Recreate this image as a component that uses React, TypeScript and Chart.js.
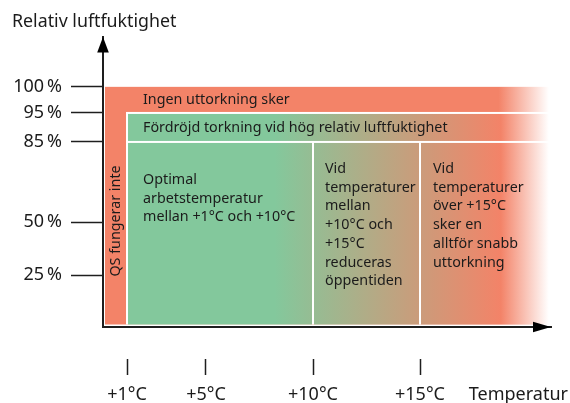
import React, { useEffect, useRef } from 'react';
import { Chart, registerables, LinearScale } from 'chart.js';

// ---------- data ----------
const yTitle = 'Relativ luftfuktighet';
const xTitle = 'Temperatur';
const yTickValues = [25, 50, 85, 95, 100];
const yTickLabels = ['25\u202F%', '50\u202F%', '85\u202F%', '95\u202F%', '100\u202F%'];
const xTickValues = [1, 5, 10, 15];
const xTickLabels = ['+1°C', '+5°C', '+10°C', '+15°C'];

const xMin = 0;
const xMax = 21;
const yMin = 0;
const yMax = 120;

const humidityTop = 100; // "Ingen uttorkning sker" above 95 %
const humidityHigh = 95; // "Fördröjd torkning" between 85 and 95 %
const humidityMid = 85;
const qsLimit = 1; // QS does not work below +1°C

const topBandLabel = 'Ingen uttorkning sker';
const midBandLabel = 'Fördröjd torkning vid hög relativ luftfuktighet';
const qsLabel = 'QS fungerar inte';

const zoneStarts = [1, 10, 15];
const zoneEnds = [10, 15, 21];
const zoneTexts = [
  ['Optimal', 'arbetstemperatur', 'mellan +1°C och +10°C'],
  ['Vid', 'temperaturer', 'mellan', '+10°C och', '+15°C', 'reduceras', 'öppentiden'],
  ['Vid', 'temperaturer', 'över +15°C', 'sker en', 'alltför snabb', 'uttorkning'],
];

// ---------- style / layout ----------
const FONT = "'Noto Sans', sans-serif";
const TEXT = '#1b1b1b';
const AXIS = '#1e1e1e';
const GREEN = 'rgb(131,200,156)';
const SALMON = 'rgb(243,131,104)';
const WHITE = 'rgb(255,255,255)';
const TITLE_FONT = 17.8;
const AXIS_FONT = 18;
const ZONE_FONT = 14.3;
const LINE_H = 18.7;
const zoneTextPad = [16, 12, 13];
const zoneTextTop = [38, 27, 27];
const bandTextPad = 16;
// colour transitions along the temperature axis
const mainGradient: [number, string][] = [[8.2, GREEN], [18.7, SALMON], [20.9, WHITE]];
const topGradient: [number, string][] = [[18.6, SALMON], [20.9, WHITE]];

// schematic (non-linear) axes: value -> fraction of axis length
const AXIS_STOPS: Record<string, [number, number][]> = {
  x: [[0, 0], [1, 0.0536], [5, 0.2299], [10, 0.46875], [15, 0.7076], [21, 1]],
  y: [[0, 0], [25, 0.179], [50, 0.362], [85, 0.638], [95, 0.738], [100, 0.828], [120, 1]],
};

function toDecimal(stops: [number, number][], v: number) {
  let i = 0;
  while (i < stops.length - 2 && v > stops[i + 1][0]) i++;
  const [v0, f0] = stops[i];
  const [v1, f1] = stops[i + 1];
  return f0 + ((v - v0) / (v1 - v0)) * (f1 - f0);
}
function fromDecimal(stops: [number, number][], d: number) {
  let i = 0;
  while (i < stops.length - 2 && d > stops[i + 1][1]) i++;
  const [v0, f0] = stops[i];
  const [v1, f1] = stops[i + 1];
  return v0 + ((d - f0) / (f1 - f0)) * (v1 - v0);
}

class SchematicScale extends LinearScale {
  static id = 'schematic';
  static defaults = LinearScale.defaults;
  getPixelForValue(value: any) {
    if (value === null || value === undefined) return NaN;
    return this.getPixelForDecimal(toDecimal(AXIS_STOPS[(this as any).id], value));
  }
  getValueForPixel(pixel: number) {
    return fromDecimal(AXIS_STOPS[(this as any).id], this.getDecimalForPixel(pixel));
  }
}

Chart.register(...registerables, SchematicScale as any);

function makeGradient(ctx: CanvasRenderingContext2D, px: (v: number) => number, stops: [number, string][], first: string) {
  const left = px(xMin);
  const right = px(xMax);
  const g = ctx.createLinearGradient(left, 0, right, 0);
  g.addColorStop(0, first);
  for (const [v, c] of stops) {
    const o = Math.min(1, Math.max(0, (px(v) - left) / (right - left)));
    g.addColorStop(o, c);
  }
  return g;
}

const zonesPlugin = {
  id: 'zones',
  beforeDraw(chart: any) {
    const { ctx } = chart;
    const xs = chart.scales.x;
    const ys = chart.scales.y;
    const px = (v: number) => xs.getPixelForValue(v);
    const py = (v: number) => ys.getPixelForValue(v);
    const right = px(xMax);
    const bottom = py(yMin) - 2.5;
    ctx.save();
    // salmon background (top band + QS column)
    ctx.fillStyle = makeGradient(ctx, px, topGradient, SALMON);
    ctx.fillRect(px(xMin) + 2, py(humidityTop), right - px(xMin) - 2, bottom - py(humidityTop));
    // white separators
    ctx.fillStyle = WHITE;
    ctx.fillRect(px(qsLimit) - 1, py(humidityHigh) - 1, right - px(qsLimit) + 1, bottom - py(humidityHigh) + 1);
    const main = makeGradient(ctx, px, mainGradient, GREEN);
    ctx.fillStyle = main;
    // band 85-95 %
    ctx.fillRect(px(qsLimit) + 1, py(humidityHigh) + 1, right - px(qsLimit) - 1, py(humidityMid) - py(humidityHigh) - 2);
    // zones below 85 %
    zoneStarts.forEach((s, i) => {
      const x0 = px(s) + 1;
      const x1 = zoneEnds[i] >= xMax ? right : px(zoneEnds[i]) - 1;
      ctx.fillRect(x0, py(humidityMid) + 1, x1 - x0, bottom - py(humidityMid) - 1);
    });

    // texts
    ctx.fillStyle = TEXT;
    ctx.font = `${ZONE_FONT}px ${FONT}`;
    ctx.textBaseline = 'middle';
    ctx.textAlign = 'left';
    ctx.fillText(topBandLabel, px(qsLimit) + bandTextPad, (py(humidityTop) + py(humidityHigh)) / 2);
    ctx.fillText(midBandLabel, px(qsLimit) + bandTextPad, (py(humidityHigh) + py(humidityMid)) / 2);
    zoneTexts.forEach((lines, i) => {
      lines.forEach((line, j) => {
        ctx.fillText(line, px(zoneStarts[i]) + zoneTextPad[i], py(humidityMid) + zoneTextTop[i] + j * LINE_H);
      });
    });
    // rotated QS label
    ctx.save();
    ctx.translate((px(xMin) + px(qsLimit)) / 2 + 1, (py(humidityHigh) + py(yMin)) / 2 + 1);
    ctx.rotate(-Math.PI / 2);
    ctx.textAlign = 'center';
    ctx.fillText(qsLabel, 0, 0);
    ctx.restore();
    ctx.restore();
  },
  afterDraw(chart: any) {
    const { ctx, chartArea } = chart;
    const xs = chart.scales.x;
    ctx.save();
    ctx.fillStyle = '#000';
    // y arrow
    const ax = chartArea.left;
    ctx.beginPath();
    ctx.moveTo(ax, chartArea.top);
    ctx.lineTo(ax - 5.8, chartArea.top + 15.5);
    ctx.lineTo(ax + 5.8, chartArea.top + 15.5);
    ctx.closePath();
    ctx.fill();
    // x arrow
    const ay = chartArea.bottom;
    ctx.beginPath();
    ctx.moveTo(chartArea.right, ay);
    ctx.lineTo(chartArea.right - 18, ay - 5.3);
    ctx.lineTo(chartArea.right - 18, ay + 5.3);
    ctx.closePath();
    ctx.fill();
    // x axis title, on the tick-label row
    ctx.fillStyle = TEXT;
    ctx.font = `${AXIS_FONT}px ${FONT}`;
    ctx.textAlign = 'right';
    ctx.textBaseline = 'middle';
    const tl = xs.options.grid.tickLength;
    const pad = xs.options.ticks.padding;
    ctx.fillText(xTitle, chart.width - 2, xs.top + tl + pad + (AXIS_FONT * 1.2) / 2);
    ctx.restore();
  },
};

export default function App() {
  const ref = useRef<HTMLCanvasElement>(null);
  useEffect(() => {
    const tickFont = { family: FONT, size: AXIS_FONT, weight: 'normal' as const };
    const chart = new Chart(ref.current as HTMLCanvasElement, {
      type: 'scatter',
      data: { datasets: [] },
      options: {
        animation: false,
        responsive: false,
        events: [],
        layout: { padding: { left: 12, right: 19, top: 0, bottom: 0 } },
        plugins: {
          legend: { display: false },
          tooltip: { enabled: false },
          title: {
            display: true,
            text: yTitle,
            align: 'start',
            color: TEXT,
            font: { family: FONT, size: TITLE_FONT, weight: 'normal' as const },
            padding: { top: 11, bottom: 4.6 },
          },
        },
        scales: {
          x: {
            type: 'schematic' as any,
            position: 'bottom',
            min: xMin,
            max: xMax,
            afterFit: (s: any) => { s.height = 76; },
            afterBuildTicks: (s: any) => { s.ticks = xTickValues.map((v) => ({ value: v })); },
            grid: {
              drawOnChartArea: false,
              tickLength: 48,
              tickColor: AXIS,
              tickWidth: 1.5,
              tickBorderDash: [0, 31, 17],
            } as any,
            border: { color: AXIS, width: 2 },
            ticks: {
              padding: 9,
              color: TEXT,
              font: tickFont,
              maxRotation: 0,
              autoSkip: false,
              callback: (_v: any, i: number) => xTickLabels[i],
            },
          },
          y: {
            type: 'schematic' as any,
            position: 'left',
            min: yMin,
            max: yMax,
            afterFit: (s: any) => { s.width = 91; },
            afterBuildTicks: (s: any) => { s.ticks = yTickValues.map((v) => ({ value: v })); },
            grid: {
              drawOnChartArea: false,
              tickLength: 32,
              tickColor: AXIS,
              tickWidth: 1.5,
            },
            border: { color: AXIS, width: 2 },
            ticks: {
              padding: 9,
              color: TEXT,
              font: tickFont,
              autoSkip: false,
              callback: (_v: any, i: number) => yTickLabels[i],
            },
          },
        },
      },
      plugins: [zonesPlugin],
    });
    return () => chart.destroy();
  }, []);
  return (
    <div style={{ position: 'fixed', left: 0, top: 0, width: 570, height: 403, background: '#fff' }}>
      <canvas ref={ref} width={570} height={403} style={{ display: 'block', width: 570, height: 403 }} />
    </div>
  );
}
